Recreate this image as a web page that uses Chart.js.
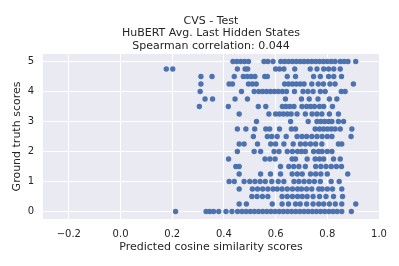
<!DOCTYPE html>
<html>
<head>
<meta charset="utf-8">
<script src="https://cdn.jsdelivr.net/npm/chart.js@4/dist/chart.umd.min.js"></script>
<style>
  html, body { margin: 0; padding: 0; background: #fff; }
  canvas { display: block; }
</style>
</head>
<body>
<canvas id="scatter" width="399" height="266"></canvas>
<script>
/* Scatter of predicted cosine similarity vs ground truth scores.
   Ground truth comes in 0.25 steps, so points are grouped per score level. */

const TITLE_LINES = ['CVS - Test', 'HuBERT Avg. Last Hidden States', 'Spearman correlation: 0.044'];
const X_LABEL = 'Predicted cosine similarity scores';
const Y_LABEL = 'Ground truth scores';

const X_TICKS = [-0.2, 0.0, 0.2, 0.4, 0.6, 0.8, 1.0];
const Y_TICKS = [0, 1, 2, 3, 4, 5];

// [ground truth score, predicted scores at that level]
const ROWS = [
  [5,    [0.435, 0.45, 0.465, 0.48, 0.495, 0.555, 0.57, 0.59, 0.62, 0.635, 0.65, 0.665, 0.68, 0.695, 0.71, 0.725, 0.74, 0.755, 0.77, 0.785, 0.80, 0.815, 0.83, 0.85, 0.865, 0.88, 0.91]],
  [4.75, [0.177, 0.202, 0.452, 0.482, 0.492, 0.60, 0.615, 0.632, 0.674, 0.734, 0.76, 0.786, 0.805, 0.825, 0.85]],
  [4.5,  [0.311, 0.354, 0.44, 0.475, 0.49, 0.505, 0.52, 0.558, 0.568, 0.645, 0.677, 0.747, 0.773, 0.805, 0.825, 0.855]],
  [4.25, [0.311, 0.42, 0.433, 0.495, 0.51, 0.525, 0.635, 0.65, 0.665, 0.68, 0.695, 0.71, 0.74, 0.765, 0.785, 0.81, 0.83, 0.901]],
  [4,    [0.308, 0.468, 0.517, 0.535, 0.55, 0.565, 0.58, 0.595, 0.61, 0.626, 0.642, 0.673, 0.706, 0.725, 0.745, 0.773, 0.792, 0.854, 0.869]],
  [3.75, [0.327, 0.356, 0.443, 0.491, 0.638, 0.70, 0.73, 0.764, 0.808, 0.837]],
  [3.5,  [0.305, 0.417, 0.533, 0.562, 0.626, 0.64, 0.655, 0.671, 0.702, 0.72, 0.735, 0.75, 0.77, 0.786, 0.82]],
  [3.25, [0.459, 0.574, 0.60, 0.615, 0.63, 0.645, 0.66, 0.683, 0.715, 0.741, 0.76, 0.779, 0.808, 0.843]],
  [3,    [0.526, 0.658, 0.726, 0.76, 0.775, 0.79, 0.805, 0.818, 0.843, 0.863]],
  [2.75, [0.452, 0.485, 0.519, 0.562, 0.577, 0.615, 0.661, 0.677, 0.753, 0.77, 0.785, 0.80, 0.815, 0.83, 0.85, 0.895]],
  [2.5,  [0.514, 0.568, 0.585, 0.606, 0.641, 0.683, 0.702, 0.72, 0.74, 0.76, 0.78, 0.80, 0.818, 0.892]],
  [2.25, [0.459, 0.478, 0.53, 0.581, 0.60, 0.632, 0.668, 0.696, 0.715, 0.735, 0.755, 0.779, 0.843, 0.856]],
  [2,    [0.452, 0.517, 0.542, 0.594, 0.613, 0.645, 0.665, 0.685, 0.70, 0.715, 0.747, 0.766, 0.78, 0.80, 0.818]],
  [1.75, [0.418, 0.559, 0.578, 0.598, 0.664, 0.677, 0.722, 0.753, 0.77, 0.786, 0.824, 0.85]],
  [1.5,  [0.446, 0.459, 0.619, 0.651, 0.67, 0.69, 0.715, 0.755, 0.775, 0.795, 0.815, 0.835, 0.855]],
  [1.25, [0.459, 0.542, 0.58, 0.619, 0.664, 0.684, 0.703, 0.735, 0.755, 0.775, 0.80, 0.879]],
  [1,    [0.42, 0.44, 0.478, 0.50, 0.52, 0.54, 0.56, 0.585, 0.61, 0.632, 0.671, 0.69, 0.71, 0.73, 0.75, 0.773, 0.815, 0.846]],
  [0.75, [0.459, 0.51, 0.53, 0.55, 0.57, 0.59, 0.606, 0.625, 0.645, 0.665, 0.685, 0.70, 0.72, 0.74, 0.767, 0.78, 0.80, 0.82, 0.856]],
  [0.5,  [0.508, 0.528, 0.549, 0.57, 0.625, 0.645, 0.665, 0.685, 0.703, 0.722, 0.745, 0.77, 0.795, 0.824, 0.859]],
  [0.25, [0.459, 0.487, 0.587, 0.625, 0.65, 0.677, 0.695, 0.72, 0.745, 0.767, 0.786, 0.808, 0.831, 0.856, 0.91]],
  [0,    [0.213, 0.331, 0.345, 0.36, 0.38, 0.408, 0.431, 0.453, 0.47, 0.486, 0.502, 0.518, 0.534, 0.55, 0.566, 0.582, 0.598, 0.614, 0.63, 0.646, 0.662, 0.678, 0.694, 0.71, 0.726, 0.742, 0.758, 0.774, 0.79, 0.806, 0.822, 0.838, 0.856, 0.893]],
];

const TEXT = '#262626';
const FACE = '#EAEAF2';
const DOT  = '#4C72B0';
const FONT = "'DejaVu Sans', sans-serif";

const points = [];
ROWS.forEach(([y, xs]) => xs.forEach(x => points.push({ x, y })));

// seaborn-style grey plot face
const faceFill = {
  id: 'faceFill',
  beforeDraw(chart){
    const { ctx, chartArea: a } = chart;
    ctx.save();
    ctx.fillStyle = FACE;
    ctx.fillRect(a.left, a.top, a.right - a.left, a.bottom - a.top);
    ctx.restore();
  }
};

const fmt = v => Number(v).toFixed(1).replace('-', '\u2212');

new Chart(document.getElementById('scatter'), {
  type: 'scatter',
  data: {
    datasets: [{
      data: points,
      backgroundColor: DOT,
      borderWidth: 0,
      pointRadius: 2.7,
      pointHoverRadius: 2.7,
    }]
  },
  options: {
    responsive: false,
    animation: false,
    layout: { padding: { left: 0, right: 20, top: 0, bottom: 0 } },
    plugins: {
      legend: { display: false },
      tooltip: { enabled: false },
      title: {
        display: true,
        fullSize: false,   // centre over the plot area, like matplotlib
        text: TITLE_LINES,
        color: TEXT,
        font: { family: FONT, size: 11, weight: 'normal', lineHeight: 1.12 },
        padding: { top: 15, bottom: 2 },
      },
    },
    scales: {
      x: {
        type: 'linear',
        min: -0.3, max: 1.0,
        afterBuildTicks: s => { s.ticks = X_TICKS.map(v => ({ value: v })); },
        afterFit: s => { s.height = 47; },
        grid: { color: '#ffffff', lineWidth: 1, drawTicks: false },
        border: { display: false },
        ticks: { color: TEXT, font: { family: FONT, size: 10 }, padding: 9, maxRotation: 0, callback: v => fmt(v) },
        title: { display: true, text: X_LABEL, color: TEXT, font: { family: FONT, size: 11, lineHeight: 1.2 }, padding: { top: 0, bottom: 12 } },
      },
      y: {
        type: 'linear',
        min: -0.25, max: 5.25,
        afterBuildTicks: s => { s.ticks = Y_TICKS.map(v => ({ value: v })); },
        afterFit: s => { s.width = 43; },
        grid: { color: '#ffffff', lineWidth: 1, drawTicks: false },
        border: { display: false },
        ticks: { color: TEXT, font: { family: FONT, size: 10 }, padding: 9, callback: v => String(v) },
        title: { display: true, text: Y_LABEL, color: TEXT, font: { family: FONT, size: 11, lineHeight: 1.2 }, padding: { top: 11, bottom: 0 } },
      }
    }
  },
  plugins: [faceFill]
});
</script>
</body>
</html>
